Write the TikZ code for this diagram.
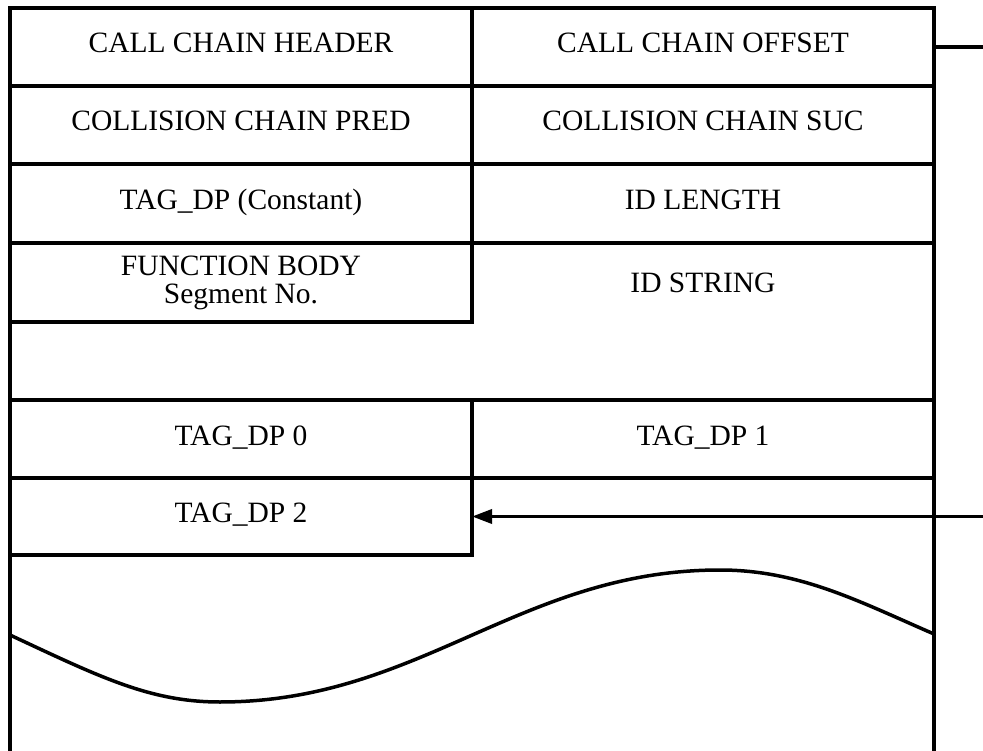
\documentclass[tikz,border=0pt]{standalone}
\usepackage{fontspec}
\setmainfont{Liberation Serif}
\usepackage{tikz}
\usetikzlibrary{positioning,arrows.meta}

\begin{document}
\begin{tikzpicture}[x=1pt, y=-1pt,
    cell/.style={draw, line width=3.5pt, minimum width=462pt, minimum height=78pt,
                 anchor=north west, outer sep=0pt, inner sep=0pt, align=center,
                 font=\fontsize{29.5}{28}\selectfont},
    lbl/.style={text height=20pt, text depth=8pt},
    rule/.style={line width=3.5pt},
  ]
  \useasboundingbox (0,0) rectangle (983,751);
  % outer frame, open at the bottom
  \draw[rule] (10,751) -- (10,8) -- (934,8) -- (934,751);
  \node[cell, lbl] (hdr)   at (10,  8)   {CALL CHAIN HEADER};
  \node[cell, lbl] (off)   at (472, 8)   {CALL CHAIN OFFSET};
  \node[cell, lbl] (pred)  at (10,  86)  {COLLISION CHAIN PRED};
  \node[cell, lbl] (suc)   at (472, 86)  {COLLISION CHAIN SUC};
  \node[cell, lbl, minimum height=79pt] (tagdp) at (10, 164) {TAG\_DP (Constant)};
  \node[cell, lbl, minimum height=79pt] (idlen) at (472, 164) {ID LENGTH};
  \node[cell, minimum height=79pt] (fbody) at (10, 243) {FUNCTION BODY\\Segment No.};
  \node[cell, draw=none, minimum height=157pt] (idstr) at (472, 243) {};
  \node[lbl, font=\fontsize{29.5}{28}\selectfont, inner sep=0pt, below=29pt of idstr.north] (idstrtxt) {ID STRING};
  \node[cell, lbl] (tdp0)  at (10,  400) {TAG\_DP 0};
  \node[cell, lbl] (tdp1)  at (472, 400) {TAG\_DP 1};
  \node[cell, lbl, minimum height=77pt] (tdp2) at (10, 478) {TAG\_DP 2};
  % links leaving the page on the right
  \coordinate (offend) at (983, 47);
  \coordinate (tdpend) at (983, 516.5);
  \draw[rule] (off.east) -- (offend);
  \draw[rule, -{Triangle[length=20pt, width=14pt]}] (tdpend) -- (tdp2.east);
  % torn-off edge
  \draw[rule] (10,635) .. controls (100,677) and (150,702) .. (220,702)
    .. controls (420,702) and (520,570) .. (720,570)
    .. controls (800,570) and (860,602) .. (934,634);
\end{tikzpicture}
\end{document}
